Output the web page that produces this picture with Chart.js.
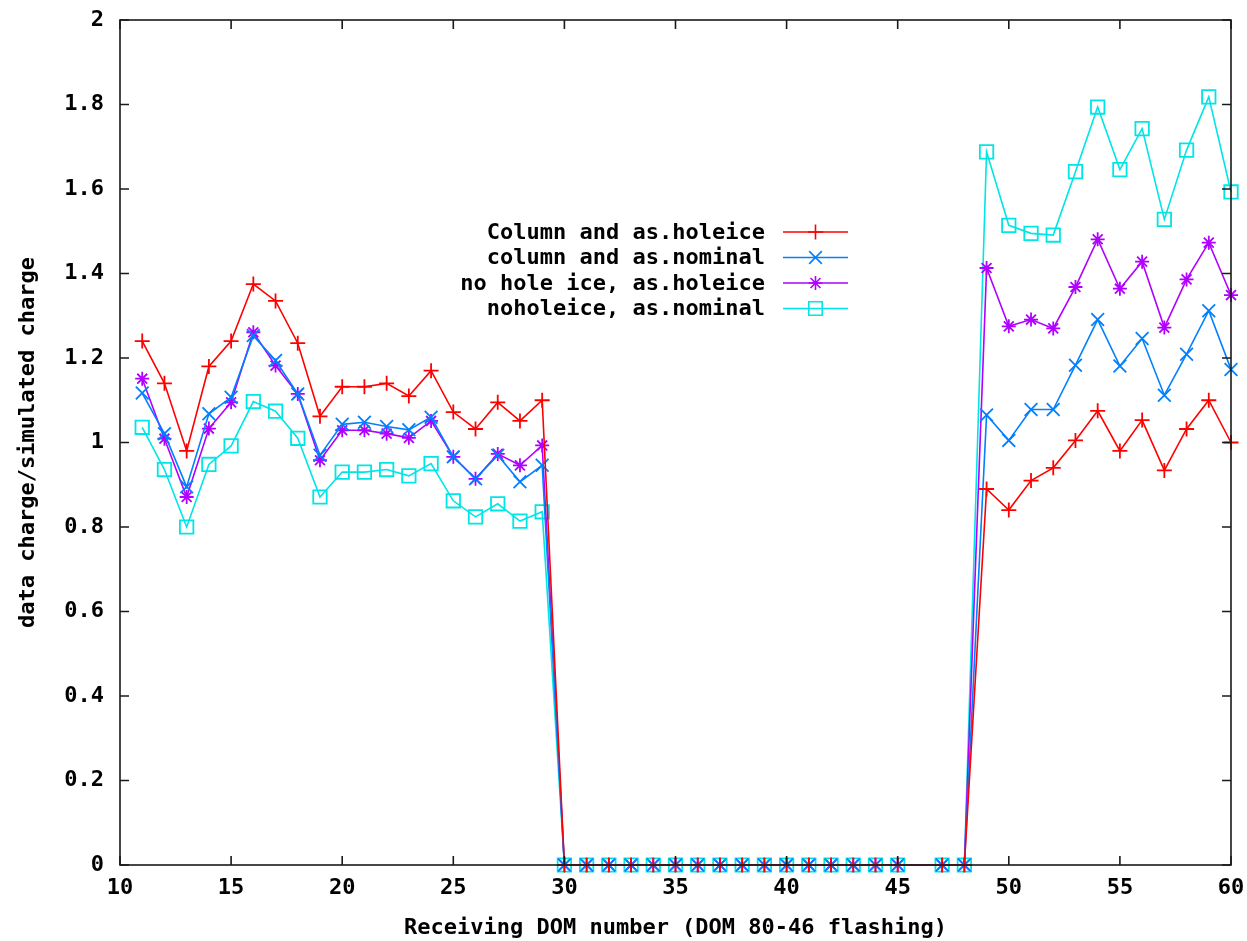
<!DOCTYPE html>
<html>
<head>
<meta charset="utf-8">
<script src="https://cdn.jsdelivr.net/npm/chart.js@4/dist/chart.umd.min.js"></script>
<style>
  html, body { margin: 0; padding: 0; background: #ffffff; }
  #wrap { width: 1247px; height: 941px; }
</style>
</head>
<body>
<div id="wrap"><canvas id="c" width="1247" height="941"></canvas></div>
<script>
// ---- data ----
const domNumbers = [11,12,13,14,15,16,17,18,19,20,21,22,23,24,25,26,27,28,29,
  30,31,32,33,34,35,36,37,38,39,40,41,42,43,44,45,47,48,
  49,50,51,52,53,54,55,56,57,58,59,60];

const seriesLabels = [
  'Column and as.holeice',
  'column and as.nominal',
  'no hole ice, as.holeice',
  'noholeice, as.nominal'
];

const colHoleice = [1.24,1.14,0.98,1.18,1.24,1.375,1.335,1.235,1.062,1.132,1.132,1.14,1.11,1.17,1.072,1.032,1.095,1.051,1.10,
  0,0,0,0,0,0,0,0,0,0,0,0,0,0,0,0,0,0,
  0.89,0.84,0.91,0.94,1.005,1.075,0.98,1.053,0.934,1.032,1.10,1.0];

const colNominal = [1.117,1.021,0.895,1.068,1.107,1.253,1.194,1.115,0.97,1.043,1.048,1.038,1.03,1.06,0.966,0.914,0.97,0.907,0.946,
  0,0,0,0,0,0,0,0,0,0,0,0,0,0,0,0,0,0,
  1.065,1.005,1.078,1.078,1.183,1.291,1.181,1.246,1.112,1.209,1.312,1.173];

const noHoleHoleice = [1.151,1.009,0.871,1.033,1.095,1.261,1.182,1.115,0.958,1.029,1.029,1.021,1.011,1.051,0.966,0.914,0.973,0.946,0.993,
  0,0,0,0,0,0,0,0,0,0,0,0,0,0,0,0,0,0,
  1.413,1.275,1.291,1.27,1.368,1.481,1.364,1.428,1.272,1.386,1.473,1.349];

const noHoleNominal = [1.036,0.936,0.80,0.948,0.992,1.097,1.074,1.01,0.871,0.93,0.93,0.936,0.921,0.95,0.862,0.824,0.855,0.814,0.836,
  0,0,0,0,0,0,0,0,0,0,0,0,0,0,0,0,0,0,
  1.688,1.514,1.495,1.491,1.641,1.794,1.646,1.743,1.528,1.692,1.818,1.593];

const xTickLabels = ['10','15','20','25','30','35','40','45','50','55','60'];
const yTickLabels = ['0','0.2','0.4','0.6','0.8','1','1.2','1.4','1.6','1.8','2'];

const xTitle = 'Receiving DOM number (DOM 80-46 flashing)';
const yTitle = 'data charge/simulated charge';

// ---- styles ----
const FONT = '"DejaVu Sans Mono", "Liberation Mono", monospace';
const styles = [
  { color: '#ff0000', pointStyle: 'cross',    radius: 7.5 },
  { color: '#0080ff', pointStyle: 'crossRot', radius: 9 },
  { color: '#b000ff', pointStyle: 'star',     radius: 7 },
  { color: '#00e5e5', pointStyle: 'rect',     radius: 9.5 }
];
const allSeries = [colHoleice, colNominal, noHoleHoleice, noHoleNominal];

const datasets = allSeries.map((vals, i) => ({
  label: seriesLabels[i],
  data: domNumbers.map((d, j) => ({ x: d, y: vals[j] })),
  borderColor: styles[i].color,
  backgroundColor: 'rgba(0,0,0,0)',
  pointBackgroundColor: 'rgba(0,0,0,0)',
  pointBorderColor: styles[i].color,
  pointStyle: styles[i].pointStyle,
  pointRadius: styles[i].radius,
  pointHoverRadius: styles[i].radius,
  pointBorderWidth: 1.8,
  borderWidth: 1.6,
  tension: 0,
  fill: false,
  clip: false
}));

function drawMarker(ctx, style, x, y, r) {
  ctx.beginPath();
  if (style === 'cross' || style === 'star') {
    ctx.moveTo(x, y - r); ctx.lineTo(x, y + r);
    ctx.moveTo(x - r, y); ctx.lineTo(x + r, y);
  }
  if (style === 'crossRot' || style === 'star') {
    const o = Math.SQRT1_2 * r;
    ctx.moveTo(x - o, y - o); ctx.lineTo(x + o, y + o);
    ctx.moveTo(x - o, y + o); ctx.lineTo(x + o, y - o);
  }
  if (style === 'rect') {
    const s = Math.SQRT1_2 * r;
    ctx.rect(x - s, y - s, 2 * s, 2 * s);
  }
  ctx.stroke();
}

const framePlugin = {
  id: 'frame',
  afterDatasetsDraw(chart) {
    const { ctx, chartArea: a, scales } = chart;
    ctx.save();
    ctx.strokeStyle = '#1a1a1a';
    ctx.lineWidth = 1.6;
    ctx.strokeRect(a.left, a.top, a.right - a.left, a.bottom - a.top);
    const tl = 9;
    ctx.beginPath();
    scales.x.ticks.forEach((t, i) => {
      const px = scales.x.getPixelForTick(i);
      ctx.moveTo(px, a.bottom); ctx.lineTo(px, a.bottom - tl);
      ctx.moveTo(px, a.top); ctx.lineTo(px, a.top + tl);
    });
    scales.y.ticks.forEach((t, i) => {
      const py = scales.y.getPixelForTick(i);
      ctx.moveTo(a.left, py); ctx.lineTo(a.left + tl, py);
      ctx.moveTo(a.right, py); ctx.lineTo(a.right - tl, py);
    });
    ctx.stroke();

    // key (legend) inside the plot
    const textRight = 765, lineL = 783, lineR = 848, y0 = 232, dy = 25.5;
    ctx.font = 'bold 22px ' + FONT;
    ctx.textAlign = 'right';
    ctx.textBaseline = 'middle';
    chart.data.datasets.forEach((ds, i) => {
      const y = y0 + i * dy;
      ctx.fillStyle = '#000';
      ctx.fillText(ds.label, textRight, y + 1);
      ctx.strokeStyle = ds.borderColor;
      ctx.lineWidth = 1.6;
      ctx.beginPath(); ctx.moveTo(lineL, y); ctx.lineTo(lineR, y); ctx.stroke();
      drawMarker(ctx, ds.pointStyle, (lineL + lineR) / 2, y, ds.pointRadius);
    });
    ctx.restore();
  }
};

new Chart(document.getElementById('c'), {
  type: 'line',
  data: { datasets },
  options: {
    responsive: false,
    animation: false,
    events: [],
    layout: { padding: { top: 20, right: 16, left: 0, bottom: 0 } },
    plugins: { legend: { display: false }, tooltip: { enabled: false } },
    scales: {
      x: {
        type: 'linear',
        min: 10, max: 60,
        afterFit(s) { s.height = 76; s.paddingLeft = 0; s.paddingRight = 0; },
        afterBuildTicks(s) { s.ticks = xTickLabels.map(v => ({ value: Number(v) })); },
        ticks: {
          callback: (v) => xTickLabels.find(l => Number(l) === v) ?? '',
          color: '#000',
          font: { family: FONT, size: 22, weight: 'bold' },
          padding: 10,
          maxRotation: 0,
          autoSkip: false
        },
        grid: { display: true, drawOnChartArea: false, drawTicks: false },
        border: { display: false },
        title: {
          display: true, text: xTitle, color: '#000',
          font: { family: FONT, size: 22, weight: 'bold', lineHeight: 1.2 },
          padding: { top: 0, bottom: 0 }
        }
      },
      y: {
        type: 'linear',
        min: 0, max: 2,
        afterFit(s) { s.width = 120; s.paddingTop = 0; s.paddingBottom = 0; },
        afterBuildTicks(s) { s.ticks = yTickLabels.map(v => ({ value: Number(v) })); },
        ticks: {
          callback: (v) => yTickLabels.find(l => Math.abs(Number(l) - v) < 1e-9) ?? '',
          color: '#000',
          font: { family: FONT, size: 22, weight: 'bold' },
          padding: 16,
          autoSkip: false
        },
        grid: { display: true, drawOnChartArea: false, drawTicks: false },
        border: { display: false },
        title: {
          display: true, text: yTitle, color: '#000',
          font: { family: FONT, size: 22, weight: 'bold', lineHeight: 1.2 },
          padding: { top: 15, bottom: 0 }
        }
      }
    }
  },
  plugins: [framePlugin]
});
</script>
</body>
</html>
